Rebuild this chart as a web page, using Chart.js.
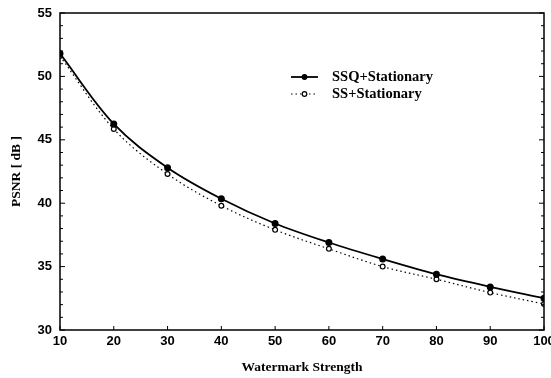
<!DOCTYPE html>
<html lang="en">
<head>
    <meta charset="UTF-8">
    <title>PSNR vs Watermark Strength</title>
    <script src="https://cdn.jsdelivr.net/npm/chart.js"></script>
    <style>
        body { margin: 0; background: #fff; }
        #wrap { width: 551px; height: 378px; }
    </style>
</head>
<body>
    <div id="wrap"><canvas id="psnrChart"></canvas></div>

    <script>
        // values
        const strength = [10, 20, 30, 40, 50, 60, 70, 80, 90, 100];
        const ssqStationary = [51.8, 46.25, 42.8, 40.35, 38.4, 36.9, 35.6, 34.4, 33.4, 32.5];
        const ssStationary = [51.6, 45.85, 42.3, 39.8, 37.9, 36.4, 35.0, 34.0, 32.95, 32.05];
        const seriesNames = ['SSQ+Stationary', 'SS+Stationary'];

        const tickFont = { family: 'Liberation Sans', size: 13, weight: 'bold' };
        const serifBold = { family: 'Liberation Serif', size: 13.5, weight: 'bold' };

        // frame + inward tick marks
        const framePlugin = {
            id: 'frame',
            afterDraw(chart) {
                const { ctx, chartArea: a, scales } = chart;
                ctx.save();
                ctx.strokeStyle = '#000';
                ctx.lineWidth = 1.5;
                ctx.strokeRect(a.left, a.top, a.right - a.left, a.bottom - a.top);
                ctx.lineWidth = 1;
                ctx.beginPath();
                for (let v = scales.y.min; v <= scales.y.max; v++) {
                    const py = scales.y.getPixelForValue(v);
                    const len = v % 5 === 0 ? 5 : 3;
                    ctx.moveTo(a.left, py); ctx.lineTo(a.left + len, py);
                    ctx.moveTo(a.right, py); ctx.lineTo(a.right - len, py);
                }
                strength.forEach(v => {
                    const px = scales.x.getPixelForValue(v);
                    ctx.moveTo(px, a.bottom); ctx.lineTo(px, a.bottom - 4);
                });
                ctx.stroke();
                ctx.restore();
            }
        };

        // legend drawn inside the plot
        const legendPlugin = {
            id: 'innerLegend',
            afterDraw(chart) {
                const ctx = chart.ctx;
                const x0 = 291, x1 = 318, tx = 332;
                const rows = [77, 94];
                ctx.save();
                chart.data.datasets.forEach((ds, i) => {
                    const y = rows[i];
                    ctx.strokeStyle = '#000';
                    ctx.lineWidth = ds.borderWidth;
                    ctx.setLineDash(ds.borderDash || []);
                    ctx.beginPath();
                    ctx.moveTo(x0, y); ctx.lineTo(x1, y);
                    ctx.stroke();
                    ctx.setLineDash([]);
                    ctx.lineWidth = 1.2;
                    ctx.beginPath();
                    ctx.arc((x0 + x1) / 2, y, 2.3, 0, Math.PI * 2);
                    ctx.fillStyle = ds.pointBackgroundColor;
                    ctx.fill();
                    ctx.stroke();
                    ctx.fillStyle = '#000';
                    ctx.font = 'bold 14.5px "Liberation Serif"';
                    ctx.textBaseline = 'middle';
                    ctx.fillText(ds.label, tx, y);
                });
                ctx.restore();
            }
        };

        new Chart(document.getElementById('psnrChart'), {
            type: 'line',
            data: {
                labels: strength,
                datasets: [{
                    label: seriesNames[0],
                    data: ssqStationary,
                    borderColor: '#000',
                    borderWidth: 1.8,
                    pointRadius: 2.6,
                    pointBackgroundColor: '#000',
                    pointBorderColor: '#000',
                    tension: 0.35
                }, {
                    label: seriesNames[1],
                    data: ssStationary,
                    borderColor: '#000',
                    borderWidth: 1.2,
                    borderDash: [1.5, 3],
                    pointRadius: 2.4,
                    pointBorderWidth: 1.2,
                    pointBackgroundColor: '#fff',
                    pointBorderColor: '#000',
                    tension: 0.35
                }]
            },
            options: {
                responsive: true,
                maintainAspectRatio: false,
                animation: false,
                layout: { padding: { top: 13, right: 7, left: 0, bottom: 0 } },
                plugins: { legend: { display: false }, tooltip: { enabled: false } },
                scales: {
                    x: {
                        type: 'linear',
                        min: 10, max: 100,
                        grid: { display: false, drawTicks: false },
                        border: { display: false },
                        ticks: { stepSize: 10, color: '#000', font: tickFont, padding: 4, maxRotation: 0 },
                        title: { display: true, text: 'Watermark Strength', color: '#000', font: serifBold, padding: { top: 0, bottom: 2 } },
                        afterFit(scale) {
                            scale.height = 48;
                            scale.paddingLeft = 0;
                            scale.paddingRight = 0;
                        }
                    },
                    y: {
                        min: 30, max: 55,
                        grid: { display: false, drawTicks: false },
                        border: { display: false },
                        ticks: { stepSize: 5, color: '#000', font: tickFont, padding: 8 },
                        title: { display: true, text: 'PSNR [ dB ]', color: '#000', font: serifBold, padding: { top: 8, bottom: 0 } },
                        afterFit(scale) {
                            scale.width = 60;
                            scale.paddingTop = 0;
                            scale.paddingBottom = 0;
                        }
                    }
                }
            },
            plugins: [framePlugin, legendPlugin]
        });
    </script>
</body>
</html>
